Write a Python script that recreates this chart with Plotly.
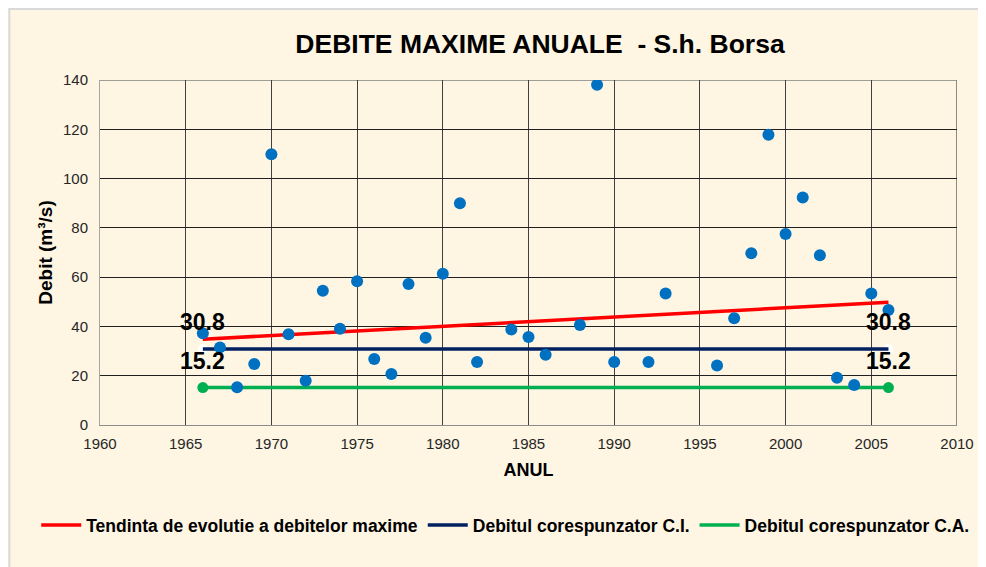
import plotly.graph_objects as go

# ---- data ----
years = [1966, 1967, 1968, 1969, 1970, 1971, 1972, 1973, 1974, 1975, 1976, 1977,
         1978, 1979, 1980, 1981, 1982, 1984, 1985, 1986, 1988, 1989, 1990, 1992,
         1993, 1996, 1997, 1998, 1999, 2000, 2001, 2002, 2003, 2004, 2005, 2006]
debit_max = [37.2, 31.5, 15.3, 24.8, 109.9, 36.8, 18.0, 54.5, 39.1, 58.3, 26.8, 20.7,
             57.2, 35.4, 61.4, 90.0, 25.6, 38.8, 35.7, 28.5, 40.6, 138.1, 25.6, 25.6,
             53.4, 24.1, 43.3, 69.7, 117.8, 77.5, 92.3, 68.9, 19.2, 16.2, 53.4, 46.7]
trend_years = [1966, 2006]
trend_values = [34.8, 49.8]
ci_years = [1966, 2006]
ci_values = [30.8, 30.8]
ca_years = [1966, 2006]
ca_values = [15.2, 15.2]
x_ticks = [1960, 1965, 1970, 1975, 1980, 1985, 1990, 1995, 2000, 2005, 2010]
y_ticks = [0, 20, 40, 60, 80, 100, 120, 140]

CREAM = "#FEF5E3"
FONT = "Liberation Sans, Arial, sans-serif"

W, H = 978, 559
L, R, T, B = 92, 26, 72, 142
PW, PH = W - L - R, H - T - B


def px_x(fx):
    return (fx - L) / PW


def px_y(fy):
    return (H - B - fy) / PH


fig = go.Figure()

fig.add_trace(go.Scatter(x=trend_years, y=trend_values, mode="lines",
                         line=dict(color="#FF0000", width=3.5),
                         name="Tendinta de evolutie a debitelor maxime"))
fig.add_trace(go.Scatter(x=ci_years, y=ci_values, mode="markers",
                         marker=dict(color="white", size=10),
                         showlegend=False, hoverinfo="skip"))
fig.add_trace(go.Scatter(x=ci_years, y=ci_values, mode="lines",
                         line=dict(color="#002060", width=3.5),
                         name="Debitul corespunzator C.I."))
fig.add_trace(go.Scatter(x=ca_years, y=ca_values, mode="lines",
                         line=dict(color="#00B050", width=3.5),
                         name="Debitul corespunzator C.A."))
fig.add_trace(go.Scatter(x=ca_years, y=ca_values, mode="markers",
                         marker=dict(color="#00B050", size=11),
                         showlegend=False, hoverinfo="skip"))
fig.add_trace(go.Scatter(x=years, y=debit_max, mode="markers",
                         marker=dict(color="#0070C0", size=12),
                         name="Debite maxime", showlegend=False))

# data labels
for xs, vs in ((ci_years, ci_values), (ca_years, ca_values)):
    for xv, yv in zip(xs, vs):
        fig.add_annotation(x=xv, y=yv, text=f"{yv:.1f}", showarrow=False,
                           yshift=27, font=dict(family=FONT, size=23, color="black",
                                                weight="bold"))

fig.update_layout(
    width=W, height=H,
    margin=dict(l=L, r=R, t=T, b=B),
    paper_bgcolor=CREAM,
    plot_bgcolor=CREAM,
    font=dict(family=FONT, size=15, color="#262626"),
    title=dict(text="DEBITE MAXIME ANUALE  - S.h. Borsa", x=532 / W, xanchor="center",
               y=1 - 36 / H, yanchor="middle",
               font=dict(family=FONT, size=26.5, color="black", weight="bold")),
    xaxis=dict(range=[1960, 2010], tickvals=x_ticks, showgrid=True,
               gridcolor="#404040", gridwidth=1, showline=True, linecolor="#8c8c8c",
               linewidth=1, ticks="outside", ticklen=5, tickcolor=CREAM,
               zeroline=False, tickfont=dict(size=15, color="#262626"),
               title=dict(text="ANUL", standoff=12,
                          font=dict(size=18, color="black", weight="bold"))),
    yaxis=dict(range=[0, 140], tickvals=y_ticks, showgrid=True,
               gridcolor="#202020", gridwidth=1, showline=True, linecolor="#a6a6a6",
               linewidth=1, ticks="", zeroline=False, ticklabelstandoff=8,
               tickfont=dict(size=15, color="#262626"),
               title=dict(text="Debit (m³/s)", standoff=5,
                          font=dict(size=19, color="black", weight="bold"))),
    legend=dict(orientation="h", x=px_x(28), xanchor="left",
                y=px_y(517), yanchor="middle", bgcolor="rgba(0,0,0,0)",
                itemwidth=40,
                font=dict(size=17.5, color="black", weight="bold")),
    shapes=[
        dict(type="rect", xref="paper", yref="paper",
             x0=px_x(1), x1=px_x(W + 20), y0=px_y(H + 20), y1=px_y(1),
             line=dict(color="#D9D9D9", width=2), layer="below"),
        dict(type="line", xref="x", yref="paper", x0=2010, x1=2010, y0=0, y1=1,
             line=dict(color="#202020", width=1), layer="below"),
        dict(type="line", xref="paper", yref="y", x0=0, x1=1, y0=140, y1=140,
             line=dict(color="#7f7f7f", width=1.5), layer="below"),
    ],
)

fig.write_html("out.html")
